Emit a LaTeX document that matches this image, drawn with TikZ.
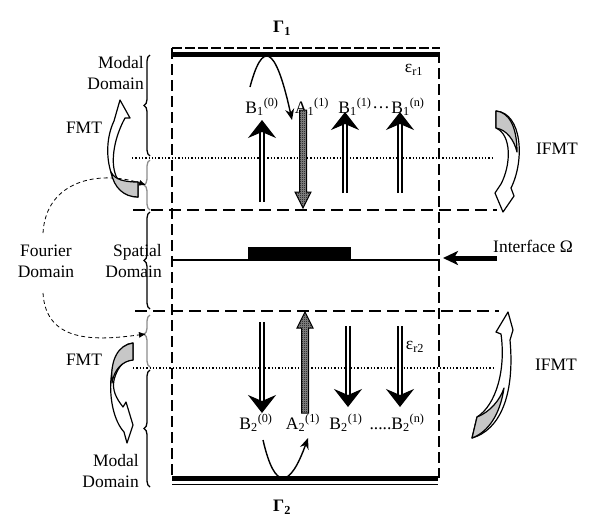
\documentclass[tikz,border=0pt]{standalone}
\usepackage{fontspec}
\setmainfont{Liberation Serif}
\usetikzlibrary{arrows.meta,decorations.pathreplacing,patterns.meta}
\tikzdeclarepattern{
  name=checker,
  type=uncolored,
  bounding box={(0pt,0pt) and (2pt,2pt)},
  tile size={(2pt,2pt)},
  code={\pgfpathrectangle{\pgfpointorigin}{\pgfpoint{1pt}{1pt}}\pgfpathrectangle{\pgfpoint{1pt}{1pt}}{\pgfpoint{1pt}{1pt}}\pgfusepath{fill}}
}
\tikzset{
 lbl/.style={font=\fontsize{17.5}{21}\selectfont, inner sep=0pt},
 hdash/.style={line width=1.9pt, dash pattern=on 12pt off 6pt},
 vdash/.style={line width=1.9pt, dash pattern=on 11pt off 5pt},
 dotline/.style={line width=1.3pt, dash pattern=on 1.3pt off 2pt},
 dbl/.style={double, double distance=2.6pt, line width=1.3pt, -{Stealth[length=18pt,width=28pt,inset=6pt]}},
 bounce/.style={line width=1.4pt, -{Stealth[length=11pt,width=9pt]}},
 fourier/.style={line width=0.8pt, dash pattern=on 4pt off 3pt, -{Latex[length=7pt,width=6pt]}},
 bk/.style={decorate, decoration={brace, amplitude=6pt}, line width=1.3pt},
 gbk/.style={bk, draw=black!45},
 band/.style={draw, line width=1.2pt, fill=white, line join=round},
 bandgray/.style={draw, line width=1.2pt, fill=black!22, line join=round},
 hatch/.style={draw, line width=1pt, fill=black!45, postaction={pattern=checker}},
}
\begin{document}
\begin{tikzpicture}[x=1pt,y=-1pt]
\useasboundingbox (0,0) rectangle (596,523);
\fill[white] (0,0) rectangle (596,523);

% boundaries
\draw[line width=1.2pt, dash pattern=on 10pt off 3pt] (172,48) -- (440,48);
\fill (172,52) rectangle (438,57);
\fill (172,476) rectangle (438,481);
\draw[line width=1.3pt] (172,484.5) -- (438,484.5);
\draw[vdash] (172,48) -- (172,478);
\draw[vdash] (439,52) -- (439,478);

% layer lines
\draw[hdash] (133,210) -- (497,210);
\draw[hdash] (135,311) -- (499,311);
\draw[dotline] (132,158) -- (493,158);
\draw[dotline] (133,368) -- (495,368);
\draw[line width=1.3pt] (172,260) -- (440,260);
\fill (248,247) rectangle (351,260);

% braces
\draw[bk] (150,156) -- (150,55);
\draw[gbk] (150,210) -- (150,160);
\draw[bk] (150,309) -- (150,212);
\draw[gbk, decoration={aspect=0.63}] (150,367) -- (150,315);
\draw[bk] (150,487) -- (150,370);
\coordinate (gtip1) at (146,185);
\coordinate (gtip2) at (146,334);

% labels
\node[lbl] (gam1) at (282,28) {\textbf{Γ\textsubscript{1}}};
\node[lbl] (gam2) at (282,507) {\textbf{Γ\textsubscript{2}}};
\node[lbl] (er1) at (414,70) {ε\textsubscript{r1}};
\node[lbl] (er2) at (415,347) {ε\textsubscript{r2}};
\node[lbl, align=right, anchor=east] (md1) at (144,73.5) {Modal\\Domain};
\node[lbl] (fmt1) at (84,128) {FMT};
\node[lbl, align=center] (fd) at (46,261) {Fourier\\Domain};
\node[lbl, align=right, anchor=east] (sd) at (162,261) {Spatial\\Domain};
\node[lbl] (fmt2) at (84,360) {FMT};
\node[lbl, align=right, anchor=east] (md2) at (139,471) {Modal\\Domain};
\node[lbl] (ifmt1) at (557,149) {IFMT};
\node[lbl] (ifmt2) at (556,365) {IFMT};
\node[lbl] (intf) at (533,246) {Interface Ω};

\node[lbl] (b10) at (262,107) {B\textsubscript{1}\textsuperscript{(0)}};
\node[lbl] (a11) at (312,107) {A\textsubscript{1}\textsuperscript{(1)}};
\node[lbl] (b11) at (355,107) {B\textsubscript{1}\textsuperscript{(1)}};
\node[lbl] (dots) at (381,108) {…};
\node[lbl] (b1n) at (408,107) {B\textsubscript{1}\textsuperscript{(n)}};
\node[lbl] (b20) at (256,423) {B\textsubscript{2}\textsuperscript{(0)}};
\node[lbl] (a21) at (303,423) {A\textsubscript{2}\textsuperscript{(1)}};
\node[lbl] (b21) at (346,423) {B\textsubscript{2}\textsuperscript{(1)}};
\node[lbl] (b2n) at (397,423) {.....B\textsubscript{2}\textsuperscript{(n)}};

% double arrows
\coordinate (s10) at (262,202); \coordinate (e10) at (262,120);
\coordinate (s11) at (345,193); \coordinate (e11) at (345,112);
\coordinate (s1n) at (400,193); \coordinate (e1n) at (400,112);
\coordinate (s20) at (262,322); \coordinate (e20) at (262,413);
\coordinate (s21) at (348,326); \coordinate (e21) at (348,407);
\coordinate (s2n) at (400,326); \coordinate (e2n) at (400,407);
\draw[dbl] (s10) -- (e10);
\draw[dbl] (s11) -- (e11);
\draw[dbl] (s1n) -- (e1n);
\draw[dbl] (s20) -- (e20);
\draw[dbl] (s21) -- (e21);
\draw[dbl] (s2n) -- (e2n);

% hatched arrows
\draw[hatch] (299.5,110) -- (306.5,110) -- (306.5,192) -- (311,192) -- (303,208) -- (295,192) -- (299.5,192) -- cycle;
\draw[hatch] (301.5,413) -- (308.5,413) -- (308.5,328) -- (313,328) -- (305,312) -- (297,328) -- (301.5,328) -- cycle;

% bounce arrows
\coordinate (bt0) at (250,87); \coordinate (bt1) at (292,120);
\draw[bounce] (bt0) .. controls (262,42) and (275,42) .. (bt1);
\coordinate (bb0) at (263,440); \coordinate (bb1) at (308,438);
\draw[bounce] (bb0) .. controls (275,492) and (290,488) .. (bb1);

% interface arrow
\coordinate (ia0) at (497,258); \coordinate (ia1) at (443,258);
\draw[line width=5pt, -{Stealth[length=15pt,width=14pt,inset=4pt]}] (ia0) -- (ia1);

% fourier dashed
\coordinate (fd0) at (43,233); \coordinate (fd1) at (43,293);
\draw[fourier] (fd0) .. controls (46,180) and (100,170) .. (gtip1);
\draw[fourier] (fd1) .. controls (46,345) and (100,340) .. (gtip2);

% curved block arrows
\draw[band] (138,197) .. controls (110,197) and (100,150) .. (114,121) -- (120,100) -- (130,118) -- (125,118) .. controls (113,140) and (110,165) .. (117,178) .. controls (122,182) .. (138,182) -- cycle;
\draw[bandgray] (138,182) -- (138,197) .. controls (124,197) and (114,188) .. (111,172) .. controls (115,180) and (125,182) .. (138,182) -- cycle;

\draw[band] (496,111) .. controls (522,113) and (525,160) .. (511,188) -- (514,196) -- (503,212) -- (495,193) -- (501,184) .. controls (511,165) and (512,135) .. (496,128) -- cycle;
\draw[bandgray] (496,111) -- (496,128) .. controls (507,130) and (514,140) .. (517,152) .. controls (517,125) and (508,112) .. (496,111) -- cycle;

\draw[band] (133,343) .. controls (106,345) and (104,410) .. (124,432) -- (127,443) -- (133,425) -- (126,402) -- (123,407) .. controls (116,398) and (112,390) .. (114,380) .. controls (118,365) and (125,360) .. (133,360) -- cycle;
\draw[bandgray] (133,343) -- (133,360) .. controls (122,361) and (114,370) .. (112,383) .. controls (110,360) and (118,345) .. (133,343) -- cycle;

\draw[band] (472,438) .. controls (500,430) and (515,395) .. (510,340) -- (513,330) -- (508,312) -- (496,332) -- (501,334) .. controls (506,370) and (496,405) .. (477,417) -- cycle;
\draw[bandgray] (472,438) -- (477,417) .. controls (490,412) and (500,400) .. (504,388) .. controls (500,415) and (488,432) .. (472,438) -- cycle;
\end{tikzpicture}
\end{document}
